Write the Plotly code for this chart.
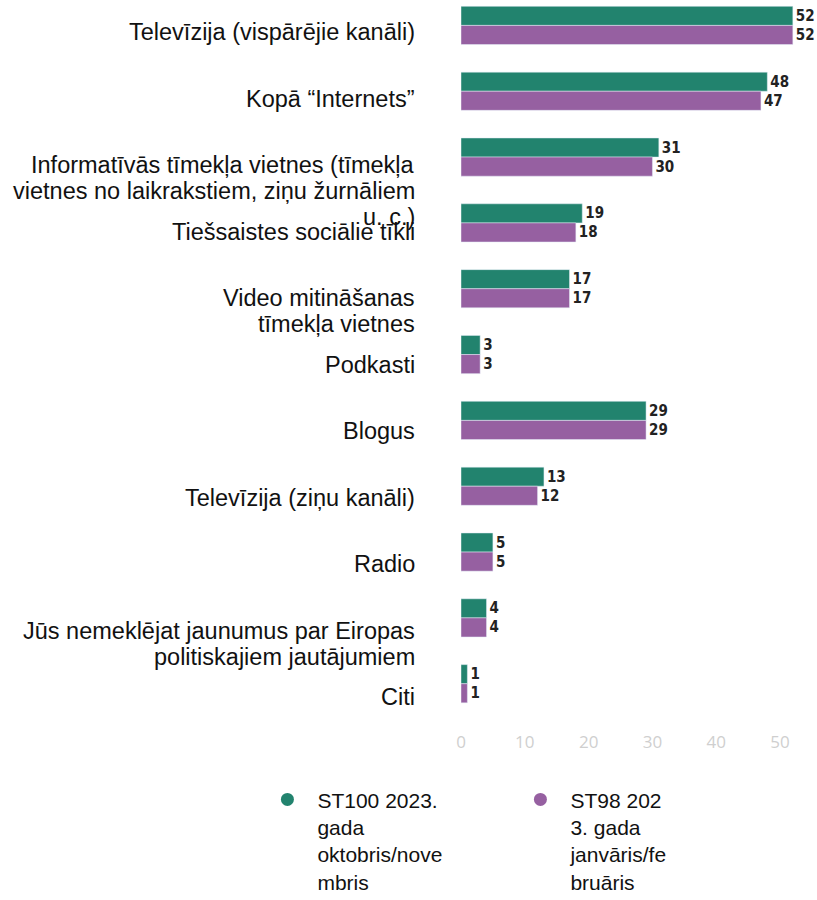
import plotly.graph_objects as go

# categories (top to bottom) and values
categories = [
    "Televīzija (vispārējie kanāli)",
    "Kopā “Internets”",
    "Informatīvās tīmekļa vietnes (tīmekļa<br>vietnes no laikrakstiem, ziņu žurnāliem<br>u. c.)",
    "Tiešsaistes sociālie tīkli",
    "Video mitināšanas<br>tīmekļa vietnes",
    "Podkasti",
    "Blogus",
    "Televīzija (ziņu kanāli)",
    "Radio",
    "Jūs nemeklējat jaunumus par Eiropas<br>politiskajiem jautājumiem",
    "Citi",
]
st100 = [52, 48, 31, 19, 17, 3, 29, 13, 5, 4, 1]
st98 = [52, 47, 30, 18, 17, 3, 29, 12, 5, 4, 1]

name_st100 = "ST100 2023.<br>gada<br>oktobris/nove<br>mbris"
name_st98 = "ST98 202<br>3. gada<br>janvāris/fe<br>bruāris"

x_ticks = [0, 10, 20, 30, 40, 50]

GREEN = "#22836e"
PURPLE = "#9660a1"
VALUE_FONT = dict(family="Liberation Sans Narrow, DejaVu Sans Condensed, Arial", size=15,
                  color="#222222", weight="bold")

fig = go.Figure()

fig.add_trace(go.Bar(y=categories, x=st100, orientation="h", marker_color=GREEN,
                     text=st100, textposition="outside", textfont=VALUE_FONT,
                     cliponaxis=False, showlegend=False, hoverinfo="x+y"))
fig.add_trace(go.Bar(y=categories, x=st98, orientation="h", marker_color=PURPLE,
                     text=st98, textposition="outside", textfont=VALUE_FONT,
                     cliponaxis=False, showlegend=False, hoverinfo="x+y"))

# legend entries with round markers
fig.add_trace(go.Scatter(x=[None], y=[None], mode="markers", name=name_st100,
                         marker=dict(color=GREEN, size=13, symbol="circle")))
fig.add_trace(go.Scatter(x=[None], y=[None], mode="markers", name=name_st98,
                         marker=dict(color=PURPLE, size=13, symbol="circle")))

# category labels on a second (hidden) scale, one annotation per line
for i, cat in enumerate(categories):
    for j, line in enumerate(cat.split("<br>")):
        fig.add_annotation(x=0, xref="x", y=i, yref="y2", text=line,
                           showarrow=False, xanchor="right", yanchor="middle",
                           xshift=-44, yshift=-26 * j,
                           font=dict(family="Liberation Sans, Arial", size=23.5, color="#111111"))

fig.update_layout(
    width=817, height=900,
    barmode="group", bargap=0.42, bargroupgap=0,
    plot_bgcolor="white", paper_bgcolor="white",
    margin=dict(l=461, r=5, t=5, b=170, autoexpand=False),
    xaxis=dict(range=[0, 55], tickvals=x_ticks, showgrid=False, zeroline=False,
               showline=False, ticks="",
               tickfont=dict(family="Open Sans, DejaVu Sans", size=17, color="#cfcfcf")),
    yaxis=dict(type="category", range=[10.703, -0.31], showticklabels=False,
               showgrid=False, zeroline=False, showline=False),
    yaxis2=dict(overlaying="y", range=[10.496, -0.406], visible=False),
    legend=dict(orientation="h", x=-0.58, y=-0.068, xanchor="left", yanchor="top",
                valign="top", itemwidth=50, entrywidth=188, entrywidthmode="pixels",
                font=dict(family="Liberation Sans, Arial", size=21, color="#111111")),
)

fig.write_html("out.html", config={"displayModeBar": False},
               post_script="document.body.style.margin='0';")
